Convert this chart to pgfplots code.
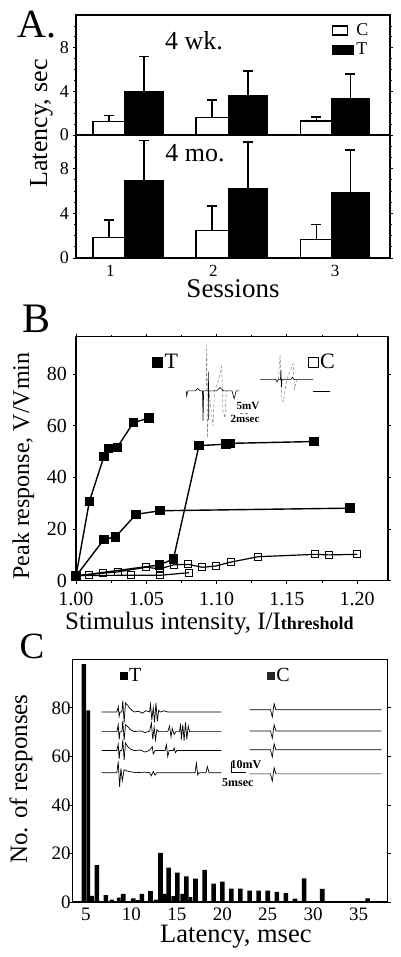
\documentclass[border=0pt]{standalone}
\usepackage{fontspec}
\setmainfont{Liberation Serif}
\usepackage{pgfplots}
\pgfplotsset{compat=1.18}
\newcommand\fs[1]{\fontsize{#1}{#1}\selectfont}
\pgfplotsset{
  common/.style={scale only axis, anchor=south west,
    tick align=outside, major tick length=3pt, minor tick length=2pt,
    tick style={black, line width=0.8pt},
    /pgf/number format/assume math mode=true,
    clip=false},
  errA/.style={error bars/.cd, y dir=plus, y explicit,
    error bar style={line width=1.6pt, black},
    error mark options={rotate=90, mark size=5pt, line width=1.6pt, black}},
}
\begin{document}
\begin{tikzpicture}
\useasboundingbox (0pt,0pt) rectangle (400pt,-957pt);
% ================= PANEL A (top: 4 wk) =================
\begin{axis}[common, at={(76pt,-135pt)}, width=314pt, height=120pt,
  xmin=0.529, xmax=3.548, ymin=0, ymax=11,
  xtick=\empty, ytick={0,4,8}, minor ytick={1,2,3,5,6,7,9,10},
  axis line style={line width=1.3pt},
  yticklabel style={font=\fs{18}, inner sep=0pt, xshift=-4pt},
  legend style={draw=none, fill=none, at={(0.815,0.945)}, anchor=north west,
    font=\fs{18}, inner sep=0pt, row sep=2pt, cells={anchor=west}},
]
\addlegendimage{legend image code/.code={\draw[black, fill=white, line width=1.3pt] (0pt,-4.5pt) rectangle (15pt,4.5pt);}}
\addlegendentry{C}
\addlegendimage{legend image code/.code={\draw[black, fill=black, line width=1.3pt] (0pt,-4.5pt) rectangle (21pt,4.5pt);}}
\addlegendentry{T}
\addplot[ybar, bar shift=0pt, bar width=0.31, draw=black, fill=white, line width=1.3pt, forget plot, errA]
  coordinates {(0.846,1.25) +- (0,0.55) (1.837,1.6) +- (0,1.6) (2.841,1.27) +- (0,0.4)};
\addplot[ybar, bar shift=0pt, bar width=0.365, draw=black, fill=black, line width=1.3pt, forget plot, errA]
  coordinates {(1.183,4.0) +- (0,3.2) (2.183,3.6) +- (0,2.25) (3.168,3.3) +- (0,2.3)};
\node[font=\fs{26}] at (axis description cs:0.376,0.79) {4 wk.};
\end{axis}
% ================= PANEL A (bottom: 4 mo) =================
\begin{axis}[common, at={(76pt,-258pt)}, width=314pt, height=123pt,
  xmin=0.529, xmax=3.548, ymin=0, ymax=11,
  xtick={0.86,1.85,3.02}, xticklabels={1,2,3}, major x tick style={draw=none},
  ytick={0,4,8}, minor ytick={1,2,3,5,6,7,9,10},
  axis line style={line width=1.3pt},
  yticklabel style={font=\fs{18}, inner sep=0pt, xshift=-4pt},
  xticklabel style={font=\fs{17}, inner sep=0pt, yshift=-4pt},
]
\addplot[ybar, bar shift=0pt, bar width=0.31, draw=black, fill=white, line width=1.3pt, forget plot, errA]
  coordinates {(0.846,1.85) +- (0,1.55) (1.837,2.44) +- (0,2.23) (2.841,1.67) +- (0,1.33)};
\addplot[ybar, bar shift=0pt, bar width=0.365, draw=black, fill=black, line width=1.3pt, forget plot, errA]
  coordinates {(1.183,6.9) +- (0,3.6) (2.183,6.2) +- (0,4.16) (3.168,5.86) +- (0,3.78)};
\node[font=\fs{26}] at (axis description cs:0.379,0.854) {4 mo.};
\end{axis}
\node[font=\fs{40}, anchor=base west] at (14pt,-38pt) {A.};
\node[font=\fs{26}, rotate=90, anchor=base] at (47pt,-123.5pt) {Latency, sec};
\node[font=\fs{27}, anchor=base] at (233pt,-298pt) {Sessions};
% ================= PANEL B =================
\begin{axis}[common, at={(76pt,-580.7pt)}, width=312pt, height=244pt,
  xmin=1, xmax=1.222, ymin=0, ymax=94.5,
  xtick={1,1.05,1.1,1.15,1.2}, minor xtick={1.025,1.075,1.125,1.175},
  ytick={0,20,40,60,80},
  axis line style={line width=1.2pt},
  xticklabel style={font=\fs{20}, inner sep=0pt, yshift=-8pt,
    /pgf/number format/.cd, fixed, fixed zerofill, precision=2},
  yticklabel style={font=\fs{20}, inner sep=0pt, xshift=-6pt},
  legend columns=2,
  legend style={draw=none, fill=none, at={(0.245,0.896)}, anchor=west,
    font=\fs{22}, inner sep=0pt, /tikz/every even column/.append style={column sep=128pt}},
]
\addlegendimage{only marks, mark=square*, mark size=5pt, black}
\addlegendentry{T}
\addlegendimage{only marks, mark=square, mark size=5pt, black, mark options={fill=white, line width=0.8pt}}
\addlegendentry{C}
% T series
\addplot[black, line width=1.4pt, mark=square*, mark size=4pt, forget plot]
  coordinates {(1.000,1.8) (1.0095,30.7) (1.0199,48.1) (1.023,51.1) (1.0294,51.7) (1.0408,61.2) (1.052,63.0)};
\addplot[black, line width=1.4pt, mark=square*, mark size=4pt, forget plot]
  coordinates {(1.000,1.8) (1.0199,16.0) (1.0282,17.0) (1.0427,25.7) (1.0598,27.1) (1.195,28.1)};
\addplot[black, line width=1.4pt, mark=square*, mark size=4pt, forget plot]
  coordinates {(1.000,1.8) (1.0593,6.1) (1.0693,8.4) (1.0875,52.3) (1.1068,52.9) (1.1096,53.2) (1.1694,53.9)};
% C series
\addplot[black, line width=1.2pt, mark=square, mark size=3.5pt, mark options={fill=white, line width=0.9pt}, forget plot]
  coordinates {(1.000,2.0) (1.0095,2.4) (1.0194,2.9) (1.0297,3.4) (1.0498,5.2) (1.0598,4.6) (1.0698,6.2) (1.080,6.3) (1.0899,5.2) (1.0996,5.7) (1.110,7.2) (1.1298,9.3) (1.170,10.2) (1.180,10.0) (1.2002,10.2)};
\addplot[black, line width=1.2pt, mark=square, mark size=3.5pt, mark options={fill=white, line width=0.9pt}, forget plot]
  coordinates {(1.000,2.0) (1.039,2.1) (1.0598,2.1) (1.0804,3.1)};
% inset traces (T)
\addplot[gray, line width=0.5pt, densely dashed, forget plot]
  coordinates {(1.0925,73.5) (1.0930,91.4) (1.0935,55.3) (1.0945,73.5) (1.0975,60) (1.0985,73.5) (1.1010,77) (1.1037,83) (1.1045,66) (1.1060,63) (1.1070,73.5)};
\addplot[black, line width=0.6pt, forget plot]
  coordinates {(1.0783,73.5) (1.0788,71.5) (1.0795,73.5) (1.0850,73.5) (1.0865,74.5) (1.0885,73.5) (1.0900,73.5) (1.0904,62) (1.0908,73.5) (1.0940,73.5) (1.0942,81) (1.0944,62.3) (1.0946,73.5) (1.1000,73.5) (1.1025,74.8) (1.1050,73.5) (1.1110,73.5) (1.1125,70.5) (1.1140,73.5) (1.1162,73.5)};
% inset traces (C)
\addplot[gray, line width=0.5pt, densely dashed, forget plot]
  coordinates {(1.1440,78) (1.1452,87.6) (1.1465,70) (1.1475,69.4) (1.1500,78) (1.1545,84) (1.1555,74) (1.1570,78)};
\addplot[black, line width=0.6pt, forget plot]
  coordinates {(1.1310,78) (1.1420,78) (1.1430,77) (1.1440,78) (1.1455,78) (1.1458,81.5) (1.1462,75) (1.1466,78) (1.1530,78) (1.1540,78.8) (1.1550,78) (1.1687,78)};
\addplot[black, line width=0.8pt, forget plot] coordinates {(1.1689,73.2) (1.1808,73.2)};
\addplot[gray, line width=0.6pt, densely dashed, forget plot] coordinates {(1.1167,65.0) (1.1238,65.0)};
\node[font=\fs{11}\bfseries] at (axis cs:1.1224,67.6) {5mV};
\node[font=\fs{11}\bfseries] at (axis cs:1.1203,62.6) {2msec};
\end{axis}
\node[font=\fs{42}, anchor=base west] at (19pt,-332pt) {B};
\node[font=\fs{24}, rotate=90, anchor=base] at (29pt,-466pt) {Peak response, V/Vmin};
\node[font=\fs{25}, anchor=base west, inner sep=0pt] at (65pt,-629pt) {Stimulus intensity, I/I{\fs{18}\bfseries threshold}};
% ================= PANEL C =================
\begin{axis}[common, at={(72.7pt,-902pt)}, width=315pt, height=242.7pt,
  xmin=3.54, xmax=38.2, ymin=0, ymax=100,
  xtick={5,10,15,20,25,30,35}, ytick={0,20,40,60,80},
  major x tick style={draw=none},
  axis line style={line width=0.9pt},
  xticklabel style={font=\fs{19}, inner sep=0pt, yshift=-3pt},
  yticklabel style={font=\fs{19}, inner sep=0pt, xshift=1pt},
  legend columns=2,
  legend style={draw=none, fill=none, at={(0.15,0.931)}, anchor=west,
    font=\fs{20}, inner sep=0pt, /tikz/every even column/.append style={column sep=124pt}},
]
\addlegendimage{only marks, mark=square*, mark size=3.5pt, black}
\addlegendentry{T}
\addlegendimage{only marks, mark=square*, mark size=3.5pt, black!85}
\addlegendentry{C}
\addplot[ybar, bar shift=0pt, bar width=0.5, fill=black, draw=none, forget plot]
  coordinates {(4.78,98) (6.19,15.2) (7.2,2.8) (9.1,3.4) (10.2,1.5) (11.15,3.4) (12.1,4.5)
  (13.2,20.2) (14.1,14.2) (15.05,12.1) (16.05,10.6) (17.05,9.6) (18.05,13.2) (19.05,7.6)
  (20.0,8.4) (21.0,5.5) (22.0,5.5) (23.0,4.7) (24.0,4.7) (25.0,4.7) (26.0,4.2) (27.0,3.7)
  (28.0,1.4) (29.0,9.7) (31.0,5.4) (36.0,1.5)};
\addplot[ybar, bar shift=0pt, bar width=0.42, fill=black, draw=none, forget plot]
  coordinates {(5.25,79) (5.7,2.5) (7.85,1.0) (8.6,1.8) (10.7,0.8) (12.7,1.0) (13.7,3.4)
  (14.6,2.4) (15.6,3.4) (16.5,2.0)};
% inset traces T
\addplot[black, line width=0.7pt, forget plot] coordinates {(6.73,78.3) (8.4,78.3) (8.55,80.5) (8.65,76.5) (8.75,78.3) (8.95,78.3) (9.05,83) (9.2,74) (9.35,82) (9.6,81) (9.9,79.5) (10.3,78.3) (10.8,78.6) (11.2,77.8) (11.6,78.8) (12.0,78.3) (12.1,81.5) (12.25,75) (12.4,80) (12.55,74) (12.7,82) (12.85,74.5) (13.0,79) (13.2,78.3) (13.6,78.8) (14.0,78.3) (19.9,78.3)};
\addplot[black, line width=0.7pt, forget plot] coordinates {(6.73,70.2) (8.4,70.2) (8.55,73) (8.65,67) (8.75,70.2) (8.95,70.2) (9.05,74.5) (9.2,66.8) (9.35,73) (9.6,72.3) (9.9,71) (10.3,70.2) (11,70.5) (11.5,69.8) (12,70.4) (12.2,73.8) (12.35,67) (12.5,72) (12.65,66.8) (12.8,71) (13.0,70.2) (14.0,70.2) (14.2,72.5) (14.35,68) (14.5,71.5) (14.7,69) (14.9,70.2) (15.3,70.2) (15.4,73.5) (15.5,67) (15.65,73) (15.8,66.5) (15.95,74) (16.1,67) (16.25,72.5) (16.4,70.2) (19.9,70.2)};
\addplot[black, line width=0.7pt, forget plot] coordinates {(6.73,62.4) (8.4,62.4) (8.55,65) (8.65,59) (8.75,62.4) (8.95,62.4) (9.05,66.8) (9.2,58.5) (9.35,65.5) (9.6,64) (9.9,63) (10.3,62.4) (11,62.6) (11.5,61.8) (12,62.5) (12.3,64) (12.4,61) (12.6,62.4) (13.7,62.4) (13.85,64.8) (14.0,59.9) (14.15,62.4) (14.6,62.4) (14.7,63.5) (14.85,61.5) (15.0,62.4) (19.9,62.4)};
\addplot[black, line width=0.7pt, forget plot] coordinates {(6.73,53.3) (8.4,53.3) (8.55,57.9) (8.7,47.5) (8.85,55) (9.0,50) (9.2,54.5) (9.5,54) (10,53.6) (10.5,53.3) (11.5,53.5) (12.0,53.3) (12.2,52) (12.4,53.8) (12.6,52.3) (12.8,53.3) (17.0,53.3) (17.15,57.2) (17.3,52.4) (17.45,53.3) (18.2,53.3) (18.35,55.8) (18.55,53.3) (19.9,53.3)};
% inset traces C
\addplot[black, line width=0.7pt, forget plot] coordinates {(23.0,79.2) (25.3,79.2) (25.5,76.2) (25.7,81.7) (25.9,79.2) (37.5,79.2)};
\addplot[black, line width=0.7pt, forget plot] coordinates {(23.0,70.5) (25.3,70.5) (25.5,67.5) (25.7,73.0) (25.9,70.5) (37.5,70.5)};
\addplot[black, line width=0.7pt, forget plot] coordinates {(23.0,62.7) (25.3,62.7) (25.5,59.7) (25.7,65.2) (25.9,62.7) (37.5,62.7)};
\addplot[black, line width=0.7pt, forget plot] coordinates {(23.0,52.8) (25.3,52.8) (25.5,49.8) (25.7,55.3) (25.9,52.8) (37.5,52.8)};
% scale bar
\addplot[black, line width=0.8pt, forget plot] coordinates {(21.0,57.6) (21.0,53.3) (22.6,53.3)};
\node[font=\fs{12}\bfseries] at (axis cs:22.6,56.6) {10mV};
\node[font=\fs{12}\bfseries] at (axis cs:21.7,49.1) {5msec};
\draw[line width=2.6pt] (rel axis cs:0,0) -- (rel axis cs:1,0);
\end{axis}
\node[font=\fs{37}, anchor=base west] at (16pt,-658pt) {C};
\node[font=\fs{25}, rotate=90, anchor=base] at (27pt,-779pt) {No. of responses};
\node[font=\fs{26.5}, anchor=base west, inner sep=0pt] at (160pt,-942.5pt) {Latency, msec};
\end{tikzpicture}
\end{document}
